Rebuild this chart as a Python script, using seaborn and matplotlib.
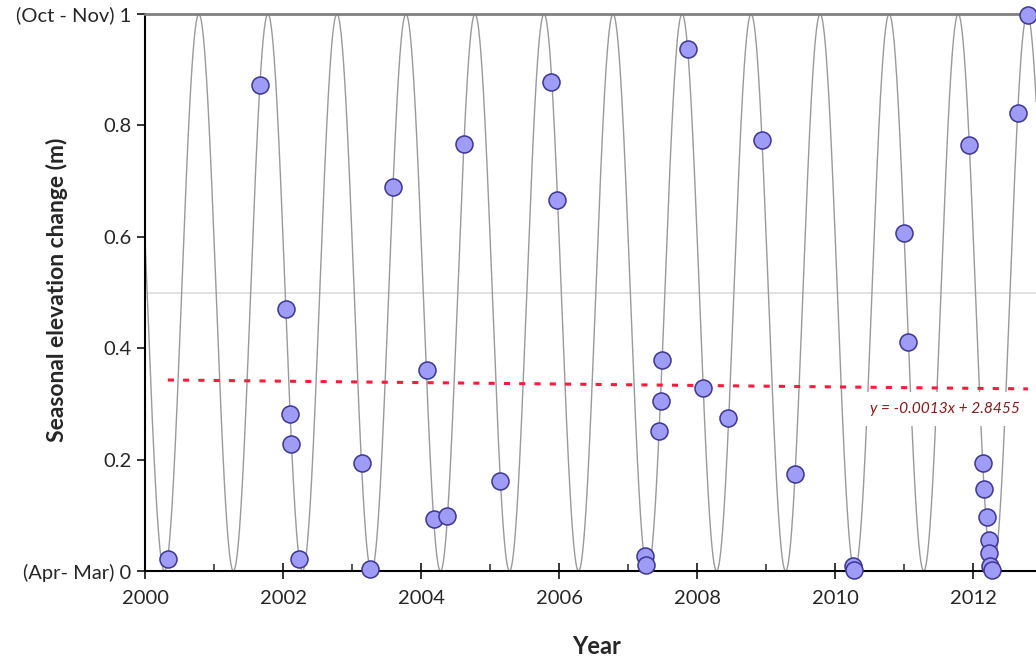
import numpy as np
import pandas as pd
import matplotlib
matplotlib.use("Agg")
import matplotlib.pyplot as plt
from matplotlib.ticker import MultipleLocator
import seaborn as sns

sns.set_style("ticks")
plt.rcParams['font.family'] = ['Lato', 'DejaVu Sans']

# observed seasonal elevation changes (decimal year, metres)
obs_year = [2000.33, 2001.67, 2002.04, 2002.10, 2002.12, 2002.23, 2003.14, 2003.26,
            2003.59, 2004.09, 2004.19, 2004.37, 2004.62, 2005.14, 2005.88, 2005.97,
            2007.24, 2007.26, 2007.45, 2007.48, 2007.49, 2007.87, 2008.08, 2008.45,
            2008.94, 2009.42, 2010.26, 2010.27, 2010.99, 2011.05, 2011.94, 2012.14,
            2012.16, 2012.19, 2012.22, 2012.23, 2012.24, 2012.27, 2012.65, 2012.79]
obs_change = [0.021, 0.873, 0.470, 0.282, 0.228, 0.021, 0.194, 0.004,
              0.689, 0.361, 0.093, 0.099, 0.767, 0.162, 0.878, 0.666,
              0.027, 0.011, 0.251, 0.305, 0.379, 0.937, 0.329, 0.275,
              0.774, 0.174, 0.009, 0.002, 0.607, 0.411, 0.765, 0.194,
              0.147, 0.097, 0.056, 0.032, 0.009, 0.002, 0.822, 0.998]

# seasonal reference cycle: yearly period, maximum in Oct-Nov
cycle_period = 1.0
cycle_peak = 0.78
cycle_years = np.linspace(2000, 2013, 2600)
cycle_values = 0.5 + 0.5 * np.cos(2 * np.pi * (cycle_years - cycle_peak) / cycle_period)

# linear trend end points
trend_year = [2000.33, 2012.79]
trend_value = [0.343, 0.327]
trend_label = "y = -0.0013x + 2.8455"

obs = pd.DataFrame({"Year": obs_year, "Change": obs_change})
cycle = pd.DataFrame({"Year": cycle_years, "Change": cycle_values})
trend = pd.DataFrame({"Year": trend_year, "Change": trend_value})

fig = plt.figure(figsize=(10.36, 6.64), dpi=100)
ax = fig.add_axes([0.14, 0.14, 0.86, 0.8389])

ax.axhline(0.5, color="#dcdcdc", lw=1.2, zorder=1)
sns.lineplot(data=cycle, x="Year", y="Change", color="#9a9a9a", lw=1.0, ax=ax, zorder=2)
sns.lineplot(data=trend, x="Year", y="Change", color="#ff1a3c", lw=2.2,
             linestyle=(0, (2, 3)), ax=ax, zorder=3)
sns.scatterplot(data=obs, x="Year", y="Change", s=150, color="#9f9cf5",
                edgecolor="#3b3596", linewidth=1.1, ax=ax, zorder=5, clip_on=False)

ax.text(2012.68, 0.291, trend_label, color="#8b1a1a", style="italic", fontsize=11.2,
        ha="right", va="center", zorder=4,
        bbox=dict(facecolor="white", edgecolor="none", pad=7))

ax.set_xlim(2000, 2012.907)
ax.set_ylim(0, 1)
ax.xaxis.set_major_locator(MultipleLocator(2))
ax.xaxis.set_minor_locator(MultipleLocator(1))
ax.set_yticks([0, 0.2, 0.4, 0.6, 0.8, 1.0])
ax.set_yticklabels(["(Apr- Mar) 0", "0.2", "0.4", "0.6", "0.8", "(Oct - Nov) 1"])
ax.set_xticks(range(2000, 2013, 2))
ax.set_xticklabels([str(y) for y in range(2000, 2013, 2)])
ax.tick_params(axis="x", which="major", direction="inout", length=11, width=1.3,
               labelsize=14.5, pad=8)
ax.tick_params(axis="x", which="minor", direction="in", length=5, width=1.1)
ax.tick_params(axis="y", direction="out", length=6, width=1.3, labelsize=14.5, pad=4)

ax.set_xlabel("Year", fontsize=17, fontweight="bold")
ax.set_ylabel("Seasonal elevation change (m)", fontsize=16.5, fontweight="bold")
ax.xaxis.set_label_coords(0.507, -0.115)
ax.yaxis.set_label_coords(-0.087, 0.504)

for s in ["left", "bottom"]:
    ax.spines[s].set_color("black")
    ax.spines[s].set_linewidth(1.5)
ax.spines["top"].set_color("#808080")
ax.spines["top"].set_linewidth(2)
ax.spines["right"].set_visible(False)

fig.savefig("out.png", dpi=100)
